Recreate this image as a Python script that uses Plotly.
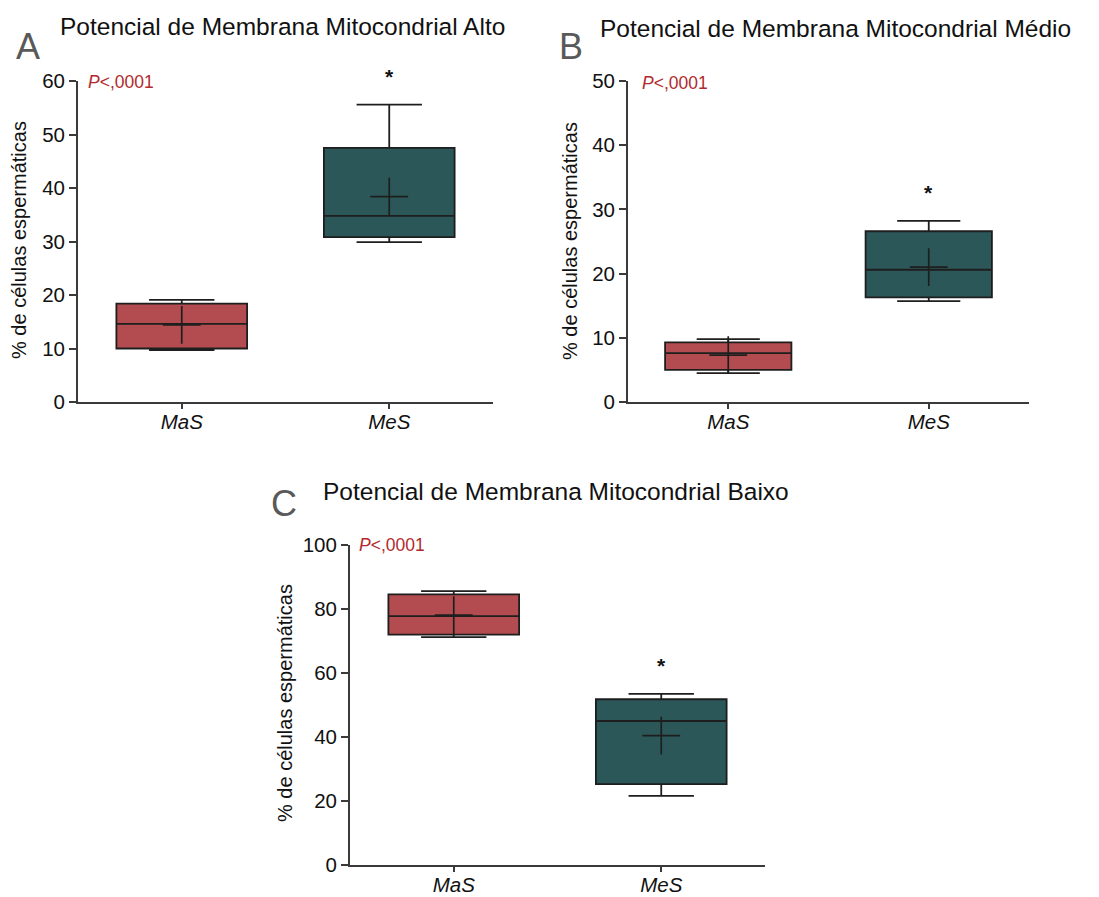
import plotly.graph_objects as go

# Groups compared in every panel
groups = ["MaS", "MeS"]

# Box statistics (% de células espermáticas) per panel: [MaS, MeS]
alto_lower = [9.7, 29.9]
alto_q1 = [10.0, 30.8]
alto_median = [14.6, 34.8]
alto_q3 = [18.4, 47.5]
alto_upper = [19.1, 55.6]
alto_mean = [14.4, 38.4]

medio_lower = [4.5, 15.7]
medio_q1 = [5.0, 16.3]
medio_median = [7.6, 20.6]
medio_q3 = [9.3, 26.6]
medio_upper = [9.8, 28.2]
medio_mean = [7.3, 21.0]

baixo_lower = [71.2, 21.6]
baixo_q1 = [72.0, 25.3]
baixo_median = [77.8, 45.0]
baixo_q3 = [84.6, 51.8]
baixo_upper = [85.6, 53.5]
baixo_mean = [78.1, 40.4]

# Axis ticks per panel
alto_ticks = [0, 10, 20, 30, 40, 50, 60]
medio_ticks = [0, 10, 20, 30, 40, 50]
baixo_ticks = [0, 20, 40, 60, 80, 100]

panel_titles = [
    "Potencial de Membrana Mitocondrial Alto",
    "Potencial de Membrana Mitocondrial Médio",
    "Potencial de Membrana Mitocondrial Baixo",
]
panel_letters = ["A", "B", "C"]
p_text = "<i>P</i>&lt;,0001"
y_title = "% de células espermáticas"

W, H = 1099, 897
FONT = "Liberation Sans, Arial, sans-serif"
box_colors = ["#B24C50", "#2C5759"]
edge = "#1e1e1e"
axis_col = "#3a3a3a"


def px_x(p):
    return p / W


def px_y(p):
    return 1 - p / H


panels = [
    dict(lower=alto_lower, q1=alto_q1, med=alto_median, q3=alto_q3, upper=alto_upper,
         mean=alto_mean, ticks=alto_ticks, xdom=(78, 493), ydom=(81, 402),
         title_pos=(58, 27), letter_pos=(28, 46), p_pos=(86, 82), ytitle_pos=(19, 240)),
    dict(lower=medio_lower, q1=medio_q1, med=medio_median, q3=medio_q3, upper=medio_upper,
         mean=medio_mean, ticks=medio_ticks, xdom=(628, 1029), ydom=(81, 402),
         title_pos=(598, 28), letter_pos=(571, 46), p_pos=(640, 83), ytitle_pos=(570, 241)),
    dict(lower=baixo_lower, q1=baixo_q1, med=baixo_median, q3=baixo_q3, upper=baixo_upper,
         mean=baixo_mean, ticks=baixo_ticks, xdom=(350, 765), ydom=(545, 865),
         title_pos=(321, 491), letter_pos=(284, 503), p_pos=(357, 545), ytitle_pos=(285, 703)),
]

fig = go.Figure()
annotations = []
layout_axes = {}

for i, pnl in enumerate(panels):
    sfx = "" if i == 0 else str(i + 1)
    xa, ya = "x" + sfx, "y" + sfx
    for g, grp in enumerate(groups):
        fig.add_trace(go.Box(
            x=[grp], q1=[pnl["q1"][g]], median=[pnl["med"][g]], q3=[pnl["q3"][g]],
            lowerfence=[pnl["lower"][g]], upperfence=[pnl["upper"][g]],
            width=0.63, whiskerwidth=0.5, boxpoints=False,
            fillcolor=box_colors[g], line=dict(color=edge, width=1.8),
            xaxis=xa, yaxis=ya, showlegend=False,
        ))
    # mean shown as a "+" marker
    fig.add_trace(go.Scatter(
        x=groups, y=pnl["mean"], mode="markers",
        marker=dict(symbol="cross-thin", size=27, line=dict(color=edge, width=1.7)),
        xaxis=xa, yaxis=ya, showlegend=False, cliponaxis=False,
    ))

    ticks = pnl["ticks"]
    layout_axes["xaxis" + sfx] = dict(
        domain=[px_x(pnl["xdom"][0]), px_x(pnl["xdom"][1])],
        anchor=ya, type="category", categoryorder="array", categoryarray=groups,
        range=[-0.5, 1.5], showline=True, linecolor=axis_col, linewidth=1.9,
        ticks="outside", ticklen=5, tickwidth=1.6, tickcolor=axis_col,
        ticklabelstandoff=-5,
        tickfont=dict(family=FONT, size=20.5, color="#111", style="italic"),
        showgrid=False, zeroline=False, fixedrange=True, automargin=False,
    )
    layout_axes["yaxis" + sfx] = dict(
        domain=[px_y(pnl["ydom"][1]), px_y(pnl["ydom"][0])],
        anchor=xa, range=[ticks[0], ticks[-1]], tickmode="array", tickvals=ticks,
        showline=True, linecolor=axis_col, linewidth=1.9,
        ticks="outside", ticklen=7, tickwidth=1.6, tickcolor=axis_col,
        tickfont=dict(family=FONT, size=20.5, color="#111"),
        showgrid=False, zeroline=False, fixedrange=True, automargin=False,
    )

    tx, ty = pnl["title_pos"]
    annotations.append(dict(
        text=panel_titles[i], xref="paper", yref="paper", x=px_x(tx), y=px_y(ty),
        xanchor="left", yanchor="middle", showarrow=False,
        font=dict(family=FONT, size=24.5, color="#111"),
    ))
    lx, ly = pnl["letter_pos"]
    annotations.append(dict(
        text=panel_letters[i], xref="paper", yref="paper", x=px_x(lx), y=px_y(ly),
        xanchor="center", yanchor="middle", showarrow=False,
        font=dict(family=FONT, size=36, color="#595959"),
    ))
    ppx, ppy = pnl["p_pos"]
    annotations.append(dict(
        text=p_text, xref="paper", yref="paper", x=px_x(ppx), y=px_y(ppy),
        xanchor="left", yanchor="middle", showarrow=False,
        font=dict(family=FONT, size=17.5, color="#B22A2E"),
    ))
    yx, yy = pnl["ytitle_pos"]
    annotations.append(dict(
        text=y_title, xref="paper", yref="paper", x=px_x(yx), y=px_y(yy),
        xanchor="center", yanchor="middle", textangle=-90, showarrow=False,
        font=dict(family=FONT, size=20, color="#111"),
    ))
    # significance star above the MeS upper whisker
    annotations.append(dict(
        text="<b>*</b>", xref=xa, yref=ya, x=groups[1], y=pnl["upper"][1],
        yshift=28, xanchor="center", yanchor="middle", showarrow=False,
        font=dict(family=FONT, size=21, color="#111"),
    ))

fig.update_layout(
    width=W, height=H, margin=dict(l=0, r=0, t=0, b=0, autoexpand=False),
    paper_bgcolor="white", plot_bgcolor="white",
    boxmode="overlay", annotations=annotations, **layout_axes,
)

# page without the default body margin so the figure fills the window exactly
fig.write_html(
    "out.html",
    config={"displayModeBar": False},
    post_script="document.body.style.margin='0';document.body.style.overflow='hidden';",
)
